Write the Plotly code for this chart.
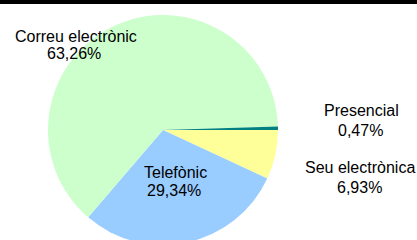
import plotly.graph_objects as go

labels = ["Seu electrònica", "Telefònic", "Correu electrònic", "Presencial"]
values = [6.93, 29.34, 63.26, 0.47]
colors = ["#FFFF99", "#99CCFF", "#CCFFCC", "#008080"]
value_text = ["6,93%", "29,34%", "63,26%", "0,47%"]

W, H = 417, 250
cx, cy, r = 163, 130, 115

fig = go.Figure(go.Pie(
    labels=labels, values=values, sort=False, direction="clockwise", rotation=90,
    marker=dict(colors=colors, line=dict(width=0)),
    textinfo="none", hoverinfo="label+percent", showlegend=False,
    domain=dict(x=[(cx - r) / W, (cx + r) / W], y=[1 - (cy + r) / H, 1 - (cy - r) / H]),
))

# (x, y) pixel centres of the label line and the value line
label_pos = {"Correu electrònic": ((76, 36), (74, 54)),
             "Presencial": ((361.5, 110.5), (360, 130)),
             "Seu electrònica": ((360, 167), (359.5, 187)),
             "Telefònic": ((175.5, 172.5), (173.5, 190))}
font = dict(family="Liberation Sans, Arial", size=16, color="black")
for lab, vt in zip(labels, value_text):
    for txt, (px, py) in zip((lab, vt), label_pos[lab]):
        fig.add_annotation(x=px / W, y=1 - py / H, xref="paper", yref="paper",
                           text=txt, showarrow=False,
                           xanchor="center", yanchor="middle", align="center",
                           font=font)

fig.add_shape(type="rect", xref="paper", yref="paper", x0=0, x1=1,
              y0=1 - 4 / H, y1=1, fillcolor="black", line=dict(width=0), layer="above")

fig.update_layout(width=W, height=H, margin=dict(l=0, r=0, t=0, b=0),
                  paper_bgcolor="white", plot_bgcolor="white")

post = (
    "document.body.style.margin='0';"
    "document.body.style.overflow='hidden';"
    "document.documentElement.style.overflow='hidden';"
)
fig.write_html("out.html", config={"displayModeBar": False}, post_script=post)
